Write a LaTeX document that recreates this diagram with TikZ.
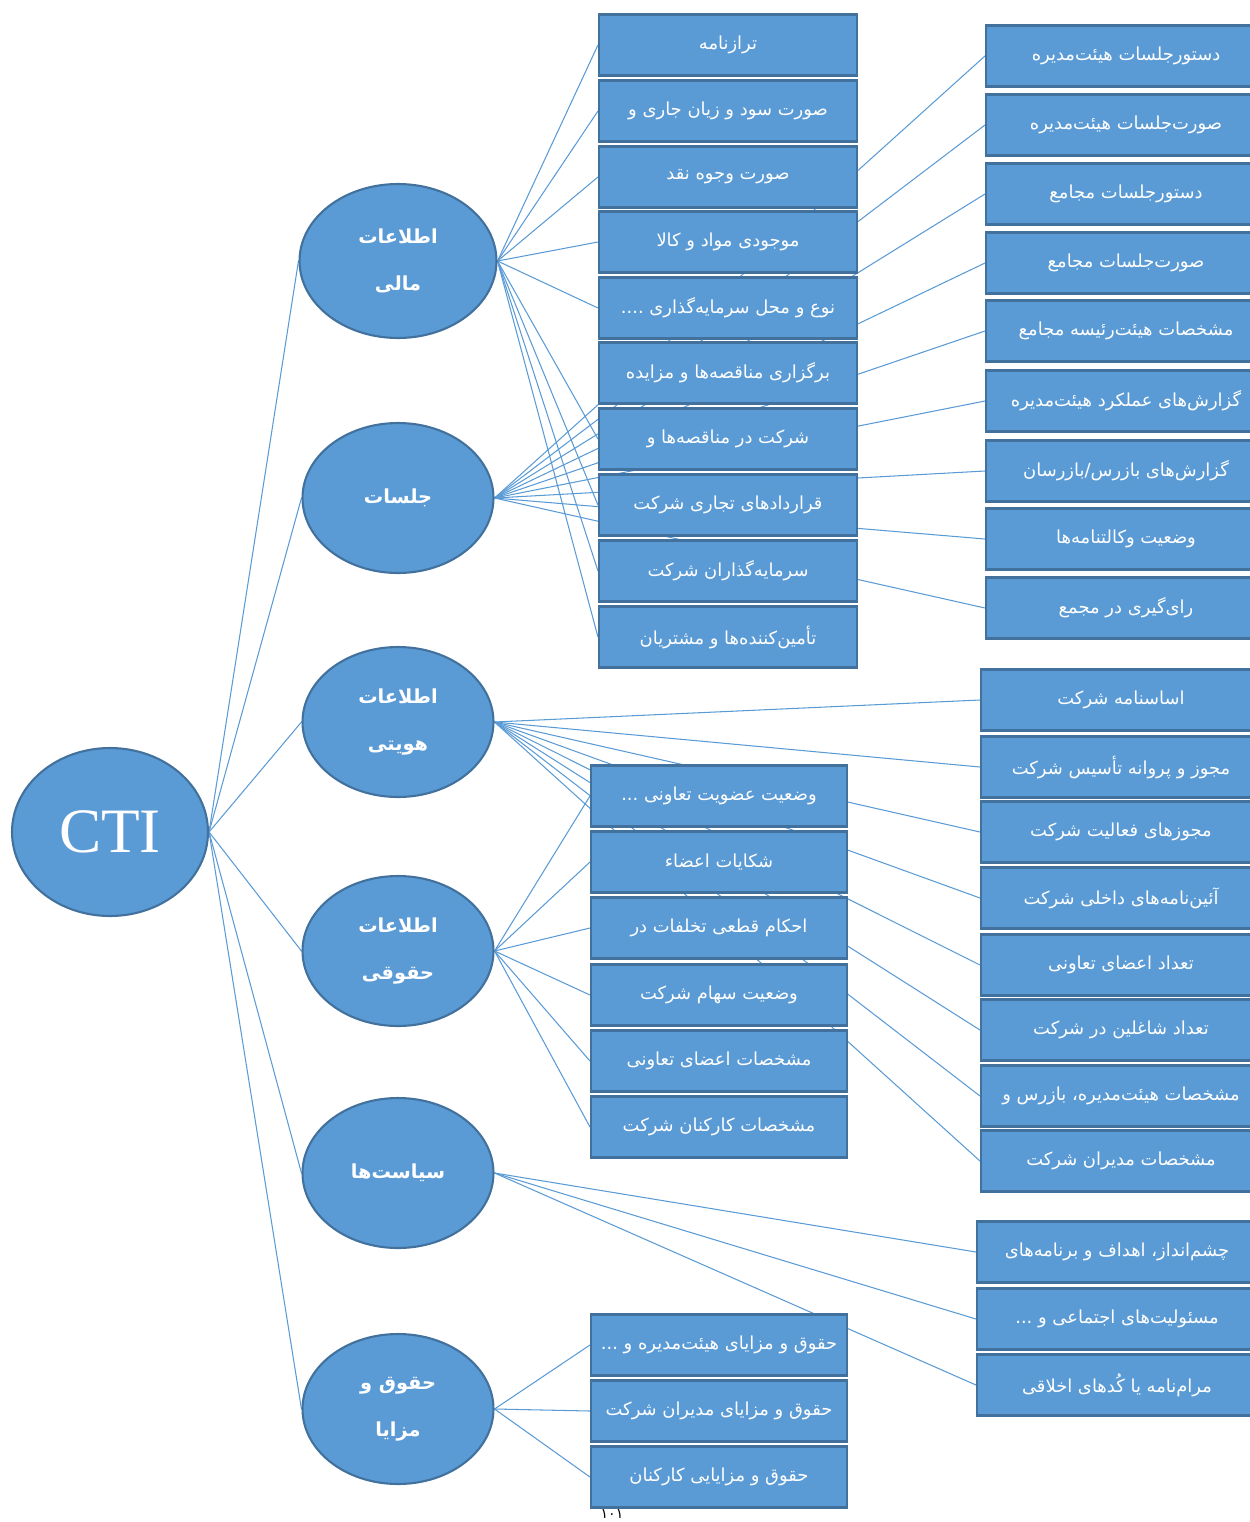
\documentclass[tikz,border=0pt]{standalone}
\usepackage{fontspec}
\usetikzlibrary{shapes.geometric,backgrounds}
\newfontfamily\farsi[Script=Arabic]{DejaVu Sans}
\newfontfamily\ctifont{Liberation Serif}
\TeXXeTstate=1
\newcommand{\fatext}[1]{\beginR #1\endR}
\definecolor{boxblue}{HTML}{5B9BD5}
\definecolor{edgeblue}{HTML}{41719C}
\tikzset{
  item/.style={draw=edgeblue, line width=1.2pt, fill=boxblue, text=white,
    minimum height=1.22cm, inner sep=0pt, font=\farsi\fontsize{10.2}{12}\selectfont},
  midA/.style={item, minimum width=5.16cm},
  midB/.style={item, minimum width=5.12cm},
  outer/.style={item, minimum width=5.6cm},
  topic/.style={ellipse, draw=edgeblue, line width=1.2pt, fill=boxblue, text=white,
    minimum width=3.82cm, minimum height=3cm, inner sep=0pt, align=center,
    font=\farsi\bfseries\fontsize{11}{27}\selectfont},
  link/.style={boxblue, line width=0.6pt}
}

\begin{document}
\begin{tikzpicture}[x=0.02cm, y=-0.02cm]
  \useasboundingbox (0,0) rectangle (1250,1522);

  \node[topic, minimum width=3.92cm, minimum height=3.36cm, font=\ctifont\fontsize{36}{40}\selectfont] (cti) at (110,832) {CTI};
  \node[topic, minimum width=3.94cm, minimum height=3.08cm] (mali) at (398,261) {\fatext{اطلاعات}\\\fatext{مالی}};
  \node[topic] (jalasat) at (398,498) {\fatext{جلسات}};
  \node[topic] (hoviyat) at (398,722) {\fatext{اطلاعات}\\\fatext{هویتی}};
  \node[topic] (hoghooghi) at (398,951) {\fatext{اطلاعات}\\\fatext{حقوقی}};
  \node[topic] (siasat) at (398,1173) {\fatext{سیاست‌ها}};
  \node[topic] (mazaya) at (398,1409) {\fatext{حقوق و}\\\fatext{مزایا}};

  \node[midA] (f1) at (728,45) {\fatext{ترازنامه}};
  \node[midA] (f2) at (728,111) {\fatext{صورت سود و زیان جاری و}};
  \node[midA] (f3) at (728,177) {\fatext{صورت وجوه نقد}};
  \node[midA] (f4) at (728,242) {\fatext{موجودی مواد و کالا}};
  \node[midA] (f5) at (728,308) {\fatext{نوع و محل سرمایه‌گذاری ....}};
  \node[midA] (f6) at (728,373) {\fatext{برگزاری مناقصه‌ها و مزایده}};
  \node[midA] (f7) at (728,439) {\fatext{شرکت در مناقصه‌ها و}};
  \node[midA] (f8) at (728,505) {\fatext{قراردادهای تجاری شرکت}};
  \node[midA] (f9) at (728,571) {\fatext{سرمایه‌گذاران شرکت}};
  \node[midA] (f10) at (728,637) {\fatext{تأمین‌کننده‌ها و مشتریان}};

  \node[outer] (j1) at (1126,56) {\fatext{دستورجلسات هیئت‌مدیره}};
  \node[outer] (j2) at (1126,125) {\fatext{صورت‌جلسات هیئت‌مدیره}};
  \node[outer] (j3) at (1126,194) {\fatext{دستورجلسات مجامع}};
  \node[outer] (j4) at (1126,263) {\fatext{صورت‌جلسات مجامع}};
  \node[outer] (j5) at (1126,331) {\fatext{مشخصات هیئت‌رئیسه مجامع}};
  \node[outer] (j6) at (1126,401) {\fatext{گزارش‌های عملکرد هیئت‌مدیره}};
  \node[outer] (j7) at (1126,471) {\fatext{گزارش‌های بازرس/بازرسان}};
  \node[outer] (j8) at (1126,539) {\fatext{وضعیت وکالتنامه‌ها}};
  \node[outer] (j9) at (1126,608) {\fatext{رای‌گیری در مجمع}};

  \node[outer] (h1) at (1121,700) {\fatext{اساسنامه شرکت}};
  \node[outer] (h2) at (1121,767) {\fatext{مجوز و پروانه تأسیس شرکت}};
  \node[outer] (h3) at (1121,832) {\fatext{مجوزهای فعالیت شرکت}};
  \node[outer] (h4) at (1121,898) {\fatext{آئین‌نامه‌های داخلی شرکت}};
  \node[outer] (h5) at (1121,965) {\fatext{تعداد اعضای تعاونی}};
  \node[outer] (h6) at (1121,1030) {\fatext{تعداد شاغلین در شرکت}};
  \node[outer] (h7) at (1121,1096) {\fatext{مشخصات هیئت‌مدیره، بازرس و}};
  \node[outer] (h8) at (1121,1161) {\fatext{مشخصات مدیران شرکت}};

  \node[midB] (q1) at (719,796) {\fatext{وضعیت عضویت تعاونی ...}};
  \node[midB] (q2) at (719,862) {\fatext{شکایات اعضاء}};
  \node[midB] (q3) at (719,928) {\fatext{احکام قطعی تخلفات در}};
  \node[midB] (q4) at (719,995) {\fatext{وضعیت سهام شرکت}};
  \node[midB] (q5) at (719,1061) {\fatext{مشخصات اعضای تعاونی}};
  \node[midB] (q6) at (719,1127) {\fatext{مشخصات کارکنان شرکت}};

  \node[outer] (s1) at (1117,1252) {\fatext{چشم‌انداز، اهداف و برنامه‌های}};
  \node[outer] (s2) at (1117,1319) {\fatext{مسئولیت‌های اجتماعی و ...}};
  \node[outer] (s3) at (1117,1385) {\fatext{مرام‌نامه یا کُدهای اخلاقی}};

  \node[midB] (m1) at (719,1345) {\fatext{حقوق و مزایای هیئت‌مدیره و ...}};
  \node[midB] (m2) at (719,1411) {\fatext{حقوق و مزایای مدیران شرکت}};
  \node[midB] (m3) at (719,1477) {\fatext{حقوق و مزایایی کارکنان}};

  \node[font=\farsi\fontsize{8}{9}\selectfont, anchor=south, inner sep=1pt] (page) at (612,1521) {\fatext{۱۰۱}};

  \begin{pgfonlayer}{background}
    \foreach \t in {mali,jalasat,hoviyat,hoghooghi,siasat,mazaya}
      \draw[link] (cti.east) -- (\t.west);
    \foreach \b in {f1,f2,f3,f4,f5,f7,f8,f9,f10}
      \draw[link] (mali.east) -- (\b.west);
    \foreach \b in {j1,j2,j3,j4,j5,j6,j7,j8,j9}
      \draw[link] (jalasat.east) -- (\b.west);
    \foreach \b in {h1,h2,h3,h4,h5,h6,h7,h8}
      \draw[link] (hoviyat.east) -- (\b.west);
    \foreach \b in {q1,q2,q3,q4,q5,q6}
      \draw[link] (hoghooghi.east) -- (\b.west);
    \foreach \b in {s1,s2,s3}
      \draw[link] (siasat.east) -- (\b.west);
    \foreach \b in {m1,m2,m3}
      \draw[link] (mazaya.east) -- (\b.west);
  \end{pgfonlayer}
\end{tikzpicture}
\end{document}
